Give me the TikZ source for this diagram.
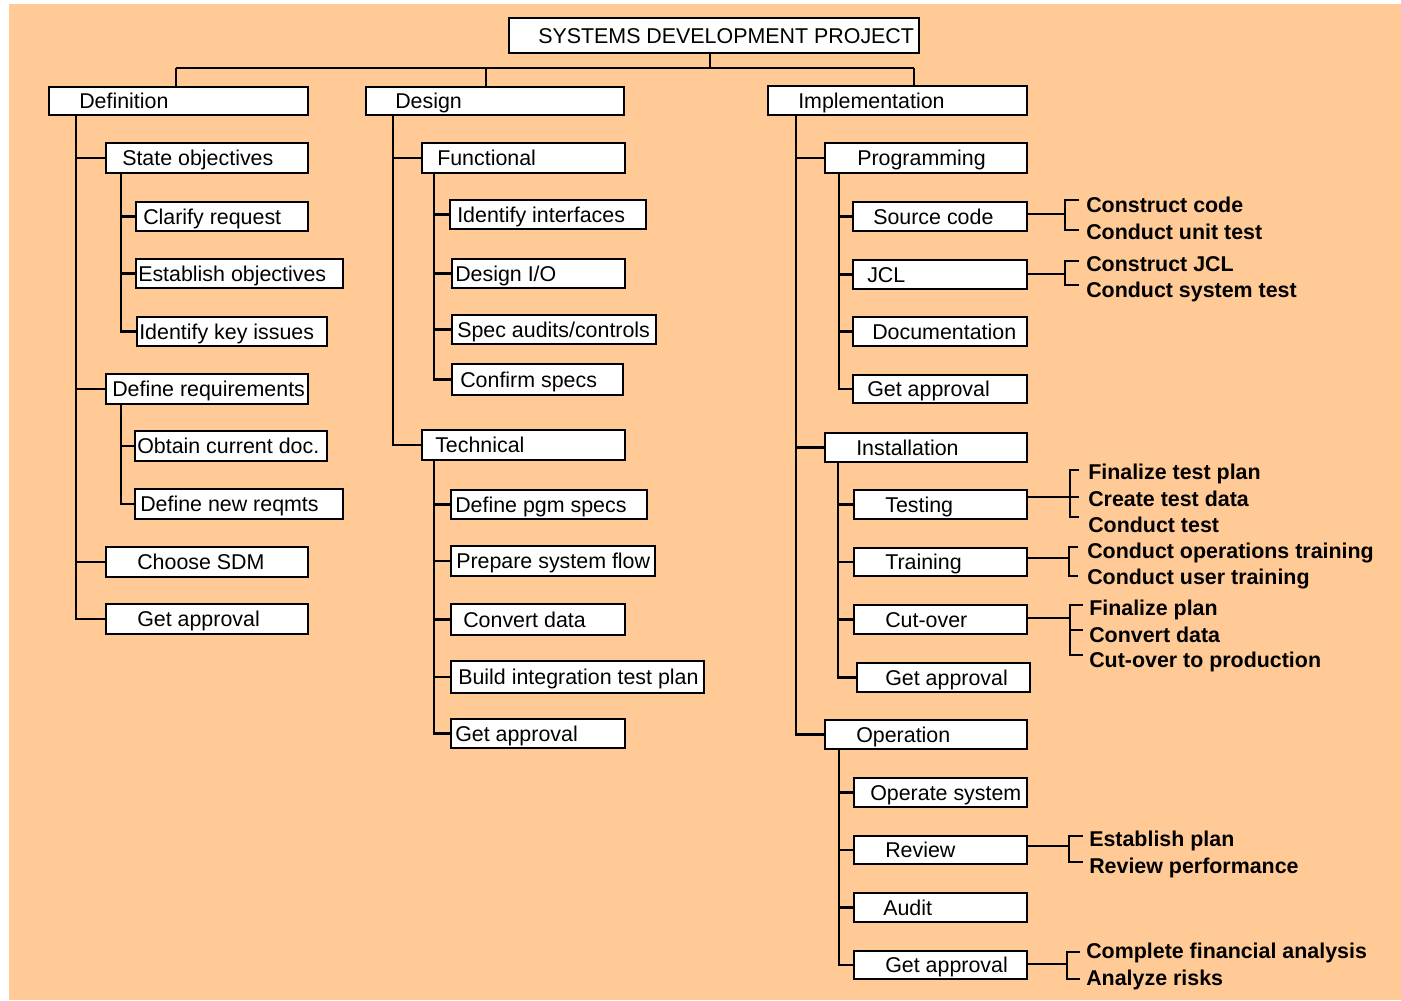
\documentclass[tikz,border=0pt]{standalone}
\usepackage{fontspec}
\setmainfont{Liberation Sans}
\usetikzlibrary{fit}
\definecolor{peach}{HTML}{FFCA96}
\tikzset{
  boxst/.style={draw, fill=white, line width=1.6pt, inner sep=0pt},
  boxtxt/.style={inner sep=0pt, font=\fontsize{16.05}{19}\selectfont},
  notetxt/.style={inner sep=0pt, font=\fontsize{16.05}{19}\selectfont\bfseries},
  conn/.style={line width=1.6pt},
}
% box: name, x1, y1, x2, y2, text x, text
\newcommand\tbox[7]{%
  \node[boxst, fit={(#2,#3) (#4,#5)}] (#1) {};
  \node[boxtxt, anchor=base west] (#1-t) at (#6,{(#3+#5)/2+7.5}) {#7};
}
% bracket: x of spine, top y, bottom y, tick end x
\newcommand\brk[4]{%
  \draw[conn] (#4,#2) -- (#1,#2) -- (#1,#3) -- (#4,#3);
}
% note line: name, x, baseline, text
\newcommand\note[4]{%
  \node[notetxt, anchor=base west] (#1) at (#2,#3) {#4};
}
\begin{document}
\begin{tikzpicture}[x=0.75pt,y=-0.75pt]
\useasboundingbox (0,0) rectangle (1401,1000);
\fill[white] (0,0) rectangle (1401,1000);
\fill[peach] (9,4) rectangle (1401,1000);

% top level
\tbox{title}{509}{18}{919}{53}{538}{SYSTEMS DEVELOPMENT PROJECT}
\tbox{def}{49}{87}{308}{115}{79}{Definition}
\tbox{des}{366}{87}{624}{115}{395}{Design}
\tbox{imp}{768}{86}{1027}{115}{798}{Implementation}

\coordinate (busM) at (710,68);
\coordinate (busL) at (176,68);
\coordinate (busD) at (486,68);
\coordinate (busR) at (914,68);
\draw[conn] (title.south -| busM) -- (busM);
\draw[conn] (busL) -- (busR);
\draw[conn] (busL) -- (busL |- def.north);
\draw[conn] (busD) -- (busD |- des.north);
\draw[conn] (busR) -- (busR |- imp.north);

% Definition
\tbox{so}{106}{143}{308}{173}{122}{State objectives}
\tbox{cr}{136}{202}{308}{231}{143}{Clarify request}
\tbox{eo}{136}{259}{343}{288}{138}{Establish objectives}
\tbox{ik}{137}{317}{327}{346}{139}{Identify key issues}
\tbox{dr}{106}{374}{308}{404}{112}{Define requirements}
\tbox{oc}{135}{431}{327}{461}{137}{Obtain current doc.}
\tbox{dn}{135}{489}{343}{519}{140}{Define new reqmts}
\tbox{cs}{106}{547}{308}{577}{137}{Choose SDM}
\tbox{gaA}{106}{604}{308}{634}{137}{Get approval}

\path (def.south west) ++(28,0) coordinate (defT);
\foreach \c in {so,dr,cs,gaA} \draw[conn] (defT) |- (\c.west);
\path (so.south west) ++(16,0) coordinate (soT);
\foreach \c in {cr,eo,ik} \draw[conn] (soT) |- (\c.west);
\path (dr.south west) ++(16,0) coordinate (drT);
\foreach \c in {oc,dn} \draw[conn] (drT) |- (\c.west);

% Design
\tbox{fn}{422}{143}{625}{173}{437}{Functional}
\tbox{ii}{450}{200}{646}{229}{457}{Identify interfaces}
\tbox{dio}{452}{259}{625}{288}{455}{Design I/O}
\tbox{sa}{452}{315}{656}{344}{457}{Spec audits/controls}
\tbox{cf}{452}{364}{623}{395}{460}{Confirm specs}
\tbox{te}{422}{430}{625}{460}{435}{Technical}
\tbox{dp}{451}{490}{647}{519}{455}{Define pgm specs}
\tbox{ps}{451}{546}{655}{576}{456}{Prepare system flow}
\tbox{cd}{451}{604}{625}{635}{463}{Convert data}
\tbox{bi}{451}{661}{704}{693}{458}{Build integration test plan}
\tbox{gaB}{451}{719}{625}{748}{455}{Get approval}

\path (des.south west) ++(28,0) coordinate (desT);
\foreach \c in {fn,te} \draw[conn] (desT) |- (\c.west);
\path (fn.south west) ++(13,0) coordinate (fnT);
\foreach \c in {ii,dio,sa,cf} \draw[conn] (fnT) |- (\c.west);
\path (te.south west) ++(13,0) coordinate (teT);
\foreach \c in {dp,ps,cd,bi,gaB} \draw[conn] (teT) |- (\c.west);

% Implementation
\tbox{pr}{825}{143}{1027}{173}{857}{Programming}
\tbox{sc}{853}{202}{1027}{231}{873}{Source code}
\tbox{jcl}{853}{260}{1027}{289}{867}{JCL}
\tbox{doc}{853}{317}{1027}{346}{872}{Documentation}
\tbox{gaC}{853}{375}{1027}{403}{867}{Get approval}
\tbox{ins}{825}{433}{1027}{462}{856}{Installation}
\tbox{ts}{854}{490}{1027}{519}{885}{Testing}
\tbox{tr}{854}{548}{1027}{576}{885}{Training}
\tbox{co}{854}{605}{1027}{634}{885}{Cut-over}
\tbox{gaD}{857}{663}{1030}{692}{885}{Get approval}
\tbox{op}{825}{720}{1027}{749}{856}{Operation}
\tbox{os}{854}{778}{1027}{807}{870}{Operate system}
\tbox{rv}{854}{836}{1027}{864}{885}{Review}
\tbox{au}{854}{893}{1027}{922}{883}{Audit}
\tbox{gaE}{854}{951}{1027}{979}{885}{Get approval}

\path (imp.south west) ++(29,0) coordinate (impT);
\foreach \c in {pr,ins,op} \draw[conn] (impT) |- (\c.west);
\path (pr.south west) ++(15,0) coordinate (prT);
\foreach \c in {sc,jcl,doc,gaC} \draw[conn] (prT) |- (\c.west);
\path (ins.south west) ++(14,0) coordinate (insT);
\foreach \c in {ts,tr,co,gaD} \draw[conn] (insT) |- (\c.west);
\path (op.south west) ++(15,0) coordinate (opT);
\foreach \c in {os,rv,au,gaE} \draw[conn] (opT) |- (\c.west);

% task lists beside the implementation steps
\coordinate (scK) at (1065,214);
\draw[conn] (sc.east |- scK) -- (scK);
\brk{1065}{200}{230}{1079}
\note{sc-1}{1086}{212}{Construct code}
\note{sc-2}{1086}{239}{Conduct unit test}

\coordinate (jclK) at (1065,274);
\draw[conn] (jcl.east |- jclK) -- (jclK);
\brk{1065}{261}{285}{1079}
\note{jcl-1}{1086}{271}{Construct JCL}
\note{jcl-2}{1086}{297}{Conduct system test}

\coordinate (tsK) at (1079,497);
\draw[conn] (ts.east |- tsK) -- (tsK);
\brk{1070}{470}{517}{1079}
\note{ts-1}{1088}{479}{Finalize test plan}
\note{ts-2}{1088}{506}{Create test data}
\note{ts-3}{1088}{532}{Conduct test}

\coordinate (trK) at (1069,558);
\draw[conn] (tr.east |- trK) -- (trK);
\brk{1069}{547}{576}{1078}
\note{tr-1}{1087}{558}{Conduct operations training}
\note{tr-2}{1087}{584}{Conduct user training}

\coordinate (coK) at (1070,618);
\draw[conn] (co.east |- coK) -- (coK);
\brk{1070}{605}{655}{1083}
\draw[conn] (1070,630) -- (1083,630);
\note{co-1}{1089}{615}{Finalize plan}
\note{co-2}{1089}{642}{Convert data}
\note{co-3}{1089}{667}{Cut-over to production}

\coordinate (rvK) at (1069,846);
\draw[conn] (rv.east |- rvK) -- (rvK);
\brk{1069}{836}{862}{1083}
\note{rv-1}{1089}{846}{Establish plan}
\note{rv-2}{1089}{873}{Review performance}

\coordinate (gaK) at (1067,964);
\draw[conn] (gaE.east |- gaK) -- (gaK);
\brk{1067}{952}{979}{1080}
\note{ga-1}{1086}{958}{Complete financial analysis}
\note{ga-2}{1086}{985}{Analyze risks}
\end{tikzpicture}
\end{document}
